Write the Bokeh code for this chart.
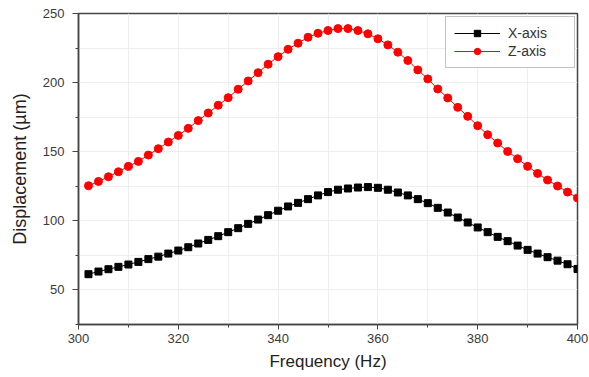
from bokeh.plotting import figure
from bokeh.models import Range1d, FixedTicker
from bokeh.embed import file_html
from bokeh.resources import INLINE

# Frequency (Hz)
freq = list(range(302, 401, 2))

# Displacement (um), X-axis
x_disp = [61.4, 63.3, 65.0, 66.7, 68.4, 70.3, 72.3, 74.1, 76.3, 78.5,
          80.9, 83.6, 86.2, 88.9, 91.8, 94.7, 97.8, 100.9, 104.1, 107.3,
          110.4, 113.0, 115.7, 118.4, 120.8, 122.5, 123.4, 124.1, 124.4, 123.9,
          122.5, 120.5, 118.4, 115.7, 112.8, 109.4, 106.0, 102.4, 98.8, 95.2,
          91.8, 88.4, 85.3, 82.1, 79.0, 76.3, 73.7, 71.2, 68.6, 65.2]

# Displacement (um), Z-axis
z_disp = [125.4, 128.5, 131.9, 135.5, 139.4, 143.0, 147.6, 152.2, 157.0, 161.8,
          166.9, 172.5, 178.0, 183.6, 189.1, 195.2, 201.2, 207.2, 213.3, 218.8,
          224.1, 228.5, 232.8, 235.7, 237.7, 239.1, 239.1, 237.7, 235.3, 231.7,
          227.3, 222.0, 216.0, 209.2, 202.7, 195.4, 188.9, 182.1, 175.6, 168.8,
          162.3, 156.3, 150.2, 144.9, 139.4, 134.3, 129.5, 125.2, 120.8, 116.5]

x_ticks = [300, 320, 340, 360, 380, 400]
x_minor = [310, 330, 350, 370, 390]
y_ticks = [50, 100, 150, 200, 250]
y_minor = [25, 75, 125, 175, 225]

FONT = "Liberation Sans"

p = figure(width=589, height=377, output_backend="svg", toolbar_location=None,
           x_range=Range1d(300, 400), y_range=Range1d(25, 250),
           min_border_left=78, min_border_right=12, min_border_top=13,
           min_border_bottom=53)

p.outline_line_color = "#444444"
p.outline_line_width = 1.5

p.line(freq, x_disp, line_color="black", line_width=1, legend_label="X-axis")
p.scatter(freq, x_disp, marker="square", size=7, fill_color="black",
          line_color="black", legend_label="X-axis")
p.line(freq, z_disp, line_color="red", line_width=1, legend_label="Z-axis")
p.scatter(freq, z_disp, marker="circle", size=8, fill_color="red",
          line_color="red", legend_label="Z-axis")

p.xaxis.ticker = FixedTicker(ticks=x_ticks, minor_ticks=x_minor)
p.yaxis.ticker = FixedTicker(ticks=y_ticks, minor_ticks=y_minor)

for ax in (p.xaxis[0], p.yaxis[0]):
    ax.axis_line_color = "#444444"
    ax.axis_line_width = 1.5
    ax.major_tick_line_color = "#444444"
    ax.minor_tick_line_color = "#444444"
    ax.major_tick_in = 0
    ax.minor_tick_in = 0
    ax.major_label_text_font = FONT
    ax.major_label_text_font_size = "13px"
    ax.major_label_text_color = "#3a3a3a"
    ax.axis_label_text_font = FONT
    ax.axis_label_text_font_style = "normal"
    ax.axis_label_text_color = "#222222"

p.xaxis.axis_label = "Frequency (Hz)"
p.xaxis.axis_label_text_font_size = "17px"
p.xaxis.major_tick_out = 5
p.xaxis.minor_tick_out = 3
p.xaxis.major_label_standoff = 4
p.xaxis.axis_label_standoff = 6

p.yaxis.axis_label = "Displacement (\u00b5m)"
p.yaxis.axis_label_text_font_size = "18px"
p.yaxis.major_tick_out = 6
p.yaxis.minor_tick_out = 3
p.yaxis.major_label_standoff = 8
p.yaxis.axis_label_standoff = 10

p.xgrid.grid_line_color = "#eeeeee"
p.ygrid.grid_line_color = "#eeeeee"
p.xgrid.minor_grid_line_color = "#eeeeee"
p.ygrid.minor_grid_line_color = "#eeeeee"

leg = p.legend[0]
leg.location = (367, 256)
leg.margin = 0
leg.border_line_color = "#888888"
leg.border_line_width = 1.5
leg.label_text_font = FONT
leg.label_text_font_size = "14px"
leg.label_text_color = "#333333"
leg.glyph_width = 46
leg.glyph_height = 16
leg.label_standoff = 8
leg.label_width = 58
leg.padding = 8
leg.spacing = 2
leg.label_height = 16

open("out.html", "w").write(file_html(p, INLINE))
